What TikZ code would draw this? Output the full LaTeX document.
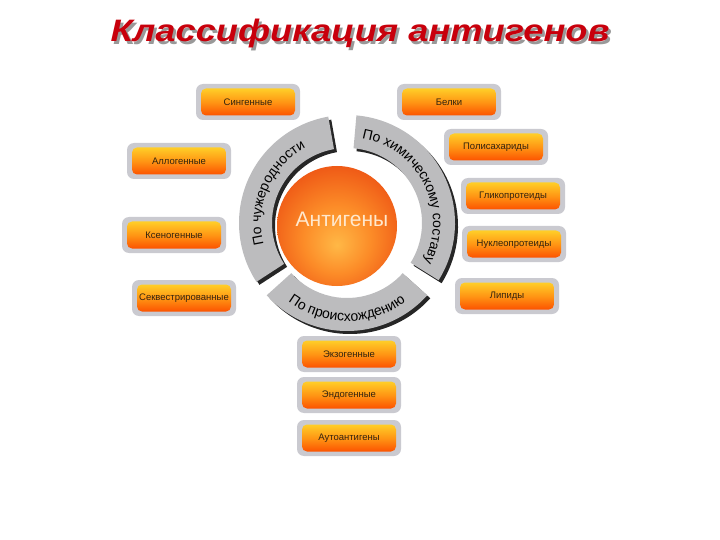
\documentclass[tikz,border=0pt]{standalone}
\usepackage{fontspec}
\setmainfont{Liberation Sans}
\usetikzlibrary{decorations.text}
\definecolor{ringgray}{RGB}{188,188,190}
\definecolor{boxgray}{RGB}{202,202,208}
\definecolor{otop}{RGB}{255,206,40}
\definecolor{omid}{RGB}{255,150,20}
\definecolor{obot}{RGB}{252,82,0}
\definecolor{titlered}{RGB}{200,0,12}
\definecolor{boxtext}{RGB}{50,35,15}
\definecolor{ballin}{RGB}{255,184,70}
\definecolor{ballmid}{RGB}{252,140,40}
\definecolor{ballout}{RGB}{236,78,18}
\definecolor{antitext}{RGB}{255,232,205}
\pgfdeclareradialshading{ballshade}{\pgfpoint{0bp}{-8bp}}{color(0bp)=(ballin); color(14bp)=(ballmid); color(32bp)=(ballout); color(50bp)=(ballout)}
\newcommand{\arcfont}{\fontsize{14}{16}\selectfont}
\newcommand{\ringseg}[2]{(#1:108) arc[start angle=#1,end angle=#2,radius=108] -- (#2:75) arc[start angle=#2,end angle=#1,radius=75] -- cycle}
\newcommand{\antbox}[4]{\node[graybox] (#1g) at (#2,-#3) {}; \node[orbox] (#1) at (#2,-#3) {#4};}
\tikzset{
  graybox/.style={fill=boxgray, rounded corners=7pt, minimum width=104pt, minimum height=36pt, inner sep=0pt},
  orbox/.style={rounded corners=5pt, minimum width=94pt, minimum height=27pt, inner sep=0pt, top color=otop, bottom color=obot, middle color=omid, font=\fontsize{9.5}{11}\selectfont, text=boxtext},
  titlestyle/.style={font=\fontsize{31}{36}\selectfont\bfseries\itshape, anchor=base},
}
\begin{document}
\begin{tikzpicture}[x=1pt,y=1pt]
\useasboundingbox (0,0) rectangle (720,-540);
\fill[white] (0,0) rectangle (720,-540);
% title
\node[titlestyle, text=black!40] (titleshadow) at (362.5,-44.5) {\scalebox{1.17}[1]{Классификация антигенов}};
\node[titlestyle, text=titlered] (title) at (360,-42) {\scalebox{1.17}[1]{Классификация антигенов}};
% ring
\begin{scope}[shift={(347,-223)}]
  \begin{scope}[xshift=3, yshift=-3]
    \fill[black!85] \ringseg{100}{213};
    \fill[black!85] \ringseg{-32}{85};
    \fill[black!85] \ringseg{222}{318};
  \end{scope}
  \fill[ringgray] \ringseg{100}{213};
  \fill[ringgray] \ringseg{-32}{85};
  \fill[ringgray] \ringseg{222}{318};
  \path[decorate, decoration={text along path, text align=center, text={|\arcfont|По чужеродности}}] (213:86) arc[start angle=213,end angle=100,radius=86];
  \path[decorate, decoration={text along path, text align=center, text={|\arcfont|По химическому составу}}] (85:86) arc[start angle=85,end angle=-32,radius=86];
  \path[decorate, decoration={text along path, text align=center, text={|\arcfont|По происхождению}}] (222:98) arc[start angle=222,end angle=318,radius=98];
\end{scope}
% center ball
\node[circle, minimum size=120pt, inner sep=0pt, shading=ballshade] (ball) at (337,-226) {};
\node[font=\fontsize{21}{24}\selectfont, text=antitext] (anti) at (342,-219) {Антигены};
% boxes
\antbox{sing}{248}{102}{Сингенные}
\antbox{belki}{449}{102}{Белки}
\antbox{allo}{179}{161}{Аллогенные}
\antbox{poli}{496}{147}{Полисахариды}
\antbox{gliko}{513}{196}{Гликопротеиды}
\antbox{kseno}{174}{235}{Ксеногенные}
\antbox{nukl}{514}{244}{Нуклеопротеиды}
\antbox{sekv}{184}{298}{Секвестрированные}
\antbox{lipid}{507}{296}{Липиды}
\antbox{ekzo}{349}{354}{Экзогенные}
\antbox{endo}{349}{395}{Эндогенные}
\antbox{auto}{349}{438}{Аутоантигены}
\end{tikzpicture}
\end{document}
